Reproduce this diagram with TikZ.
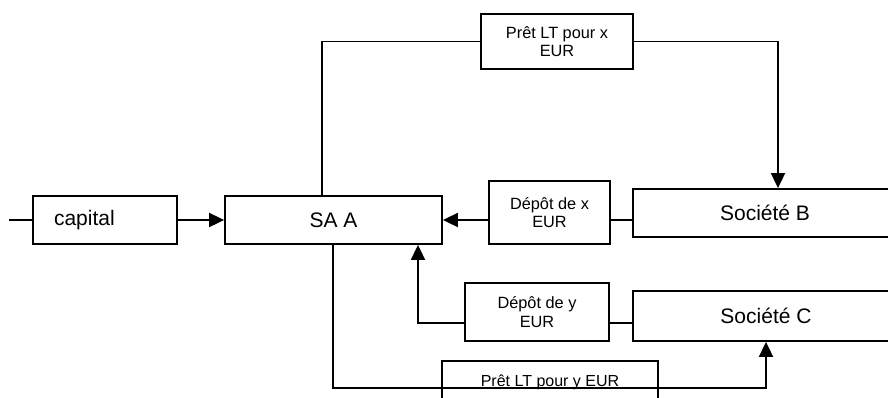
\documentclass[tikz,border=0pt]{standalone}
\usepackage{fontspec}
\setmainfont{Liberation Sans}
\usetikzlibrary{arrows.meta}
\begin{document}
\begin{tikzpicture}[x=1pt,y=-1pt,
  line width=1.8pt,
  box/.style={draw, fill=white, rectangle, inner sep=0pt, align=center},
  bigtext/.style={font=\fontsize{21}{24}\selectfont},
  smalltext/.style={font=\fontsize{16.3}{18.5}\selectfont},
  arr/.style={-{Triangle[length=15pt,width=14pt]}}]
\useasboundingbox (0,0) rectangle (888,397);
\clip (0,0) rectangle (888,397);

% boxes
\node[box, bigtext, minimum width=144pt, minimum height=48pt, text width=102pt, align=left] (cap) at (105,220) {capital};
\node[box, bigtext, minimum width=217pt, minimum height=48pt] (saa) at (333.5,220) {SA A};
\node[box, smalltext, minimum width=152pt, minimum height=55pt] (prx) at (557,41.5) {Prêt LT pour x\\EUR};
\node[box, bigtext, minimum width=264pt, minimum height=48pt] (sb) at (765,213) {Société B};
\node[box, smalltext, minimum width=121pt, minimum height=63pt] (dx) at (549.5,212.5) {Dépôt de x\\EUR};
\node[box, smalltext, minimum width=144pt, minimum height=58pt] (dy) at (537,312) {Dépôt de y\\EUR};
\node[box, bigtext, minimum width=266pt, minimum height=50pt] (sc) at (766,316) {Société C};
\node[box, font=\fontsize{16}{19}\selectfont, minimum width=216pt, minimum height=42pt] (pry) at (550,382) {Prêt LT pour y EUR};

% helper coordinates for the routed connectors
\coordinate (in) at (9,220);
\coordinate (xa) at (322,0);
\coordinate (xb) at (778,0);
\coordinate (xc) at (418,0);
\coordinate (xd) at (333,0);
\coordinate (xe) at (766,0);
\coordinate (yx) at (0,220);
\coordinate (yy) at (0,323);
\coordinate (yb) at (0,388);

% connectors
\draw (in) -- (cap.west);
\draw[arr] (cap.east) -- (saa.west);
\draw (xa |- saa.north) |- (prx.west);
\draw[arr] (prx.east) -| (xb |- sb.north);
\draw (sb.west |- yx) -- (dx.east |- yx);
\draw[arr] (dx.west |- yx) -- (saa.east);
\draw (sc.west |- yy) -- (dy.east |- yy);
\draw[arr] (dy.west |- yy) -| (xc |- saa.south);
\draw[arr] (xd |- saa.south) -- (xd |- yb) -| (xe |- sc.south);
\end{tikzpicture}
\end{document}
